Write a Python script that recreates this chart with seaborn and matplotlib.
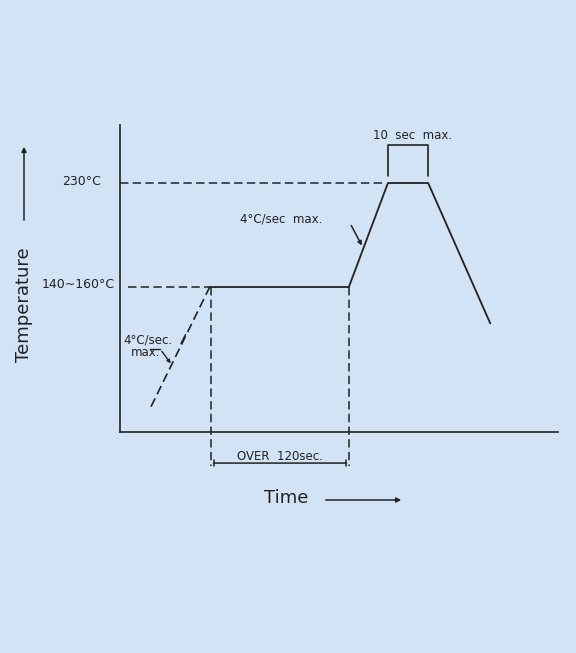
import matplotlib
matplotlib.use("Agg")
import matplotlib.pyplot as plt
import seaborn as sns
import pandas as pd

# ---- data (schematic reflow profile) ----
preheat_time = [27, 78]          # s (dashed ramp)
preheat_temp = [58, 150]         # °C
profile_time = [78, 199, 233, 268, 322]
profile_temp = [150, 150, 230, 230, 122]
peak_temp = 230
soak_temp = 150
soak_start, soak_end = 78, 199
peak_start, peak_end = 233, 268
y_labels = ["230°C", "140~160°C"]
y_label_vals = [230, 150]

BG = "#d1e3f4"
INK = "#222222"

sns.set_theme(style="white")
plt.rcParams['font.family'] = ['DejaVu Sans']

fig = plt.figure(figsize=(5.76, 6.53), dpi=100, facecolor=BG)
W, H = 576, 653
ax = fig.add_axes([120 / W, 1 - 432 / H, 438 / W, 307 / H])
ax.set_facecolor(BG)
ax.set_xlim(0, 380.9)
ax.set_ylim(38.5, 274.6)
for s in ["top", "right"]:
    ax.spines[s].set_visible(False)
for s in ["left", "bottom"]:
    ax.spines[s].set_color(INK)
    ax.spines[s].set_linewidth(1.2)
ax.set_xticks([])
ax.set_yticks([])

dash = (0, (5.5, 2.8))
df_pre = pd.DataFrame({"t": preheat_time, "T": preheat_temp})
df_prof = pd.DataFrame({"t": profile_time, "T": profile_temp})
sns.lineplot(data=df_pre, x="t", y="T", ax=ax, sort=False, color=INK,
             lw=1.2, linestyle=dash, estimator=None)
sns.lineplot(data=df_prof, x="t", y="T", ax=ax, sort=False, color=INK,
             lw=1.3, estimator=None)
ax.set_xlabel("")
ax.set_ylabel("")

# reference dashed lines
ax.plot([0, 230], [peak_temp, peak_temp], color=INK, lw=1.1, ls=dash)
ax.plot([7, soak_start], [soak_temp, soak_temp], color=INK, lw=1.1, ls=dash)
# vertical dashed lines for soak duration
for tx in (soak_start + 1, soak_end):
    ax.plot([tx, tx], [soak_temp, 12.3], color=INK, lw=1.1, ls=dash, clip_on=False)
ax.annotate("", xy=(soak_start + 1, 14.6), xytext=(soak_end, 14.6),
            arrowprops=dict(arrowstyle="|-|", color=INK, lw=1.1,
                            mutation_scale=2), annotation_clip=False)
ax.text((soak_start + soak_end) / 2 + 1, 20, "OVER  120sec.", ha="center",
        va="center", fontsize=8.5, color=INK, clip_on=False)

# peak bracket
ax.plot([peak_start, peak_start, peak_end, peak_end],
        [235.5, 259.2, 259.2, 235.5], color=INK, lw=1.2)
ax.text(254.5, 266.5, "10  sec  max.", ha="center", va="center",
        fontsize=8.5, color=INK)

# ramp annotation (upper)
ax.text(140, 202.3, "4°C/sec  max.", ha="center", va="center",
        fontsize=8.5, color=INK)
ax.annotate("", xy=(211.5, 180), xytext=(200, 199.2),
            arrowprops=dict(arrowstyle="-|>", color=INK, lw=1.1,
                            mutation_scale=6))

# ramp annotation (lower)
ax.text(2.6, 109.5, "4°C/sec.", ha="left", va="center", fontsize=8.5, color=INK)
ax.text(9.8, 99.5, "max.", ha="left", va="center", fontsize=8.5, color=INK)
ax.plot([26, 35], [102.3, 102.3], color=INK, lw=1.0)
ax.annotate("", xy=(45.5, 89.5), xytext=(35, 102.3),
            arrowprops=dict(arrowstyle="-|>", color=INK, lw=1.0,
                            mutation_scale=5))
ax.plot([53, 57], [106.5, 113.5], color=INK, lw=1.0)

# y labels
for lab, v, xr in zip(y_labels, y_label_vals, [-16.5, -4.3]):
    ax.text(xr, v + (0.8 if v == 230 else 2.3), lab, ha="right", va="center",
            fontsize=9, color=INK, clip_on=False)

# axis titles with arrows (figure coordinates)
fig.text(24 / W, 1 - 305 / H, "Temperature", rotation=90, ha="center",
         va="center", fontsize=13, color=INK)
fig.add_artist(matplotlib.patches.FancyArrowPatch(
    (24 / W, 1 - 223 / H), (24 / W, 1 - 144 / H), transform=fig.transFigure,
    arrowstyle="-|>", mutation_scale=7, color=INK, lw=1.1))
fig.text(264 / W, 1 - 498 / H, "Time", ha="left", va="center",
         fontsize=13, color=INK)
fig.add_artist(matplotlib.patches.FancyArrowPatch(
    (323 / W, 1 - 500 / H), (404 / W, 1 - 500 / H), transform=fig.transFigure,
    arrowstyle="-|>", mutation_scale=7, color=INK, lw=1.1))

fig.savefig("out.png", dpi=100, facecolor=BG)
